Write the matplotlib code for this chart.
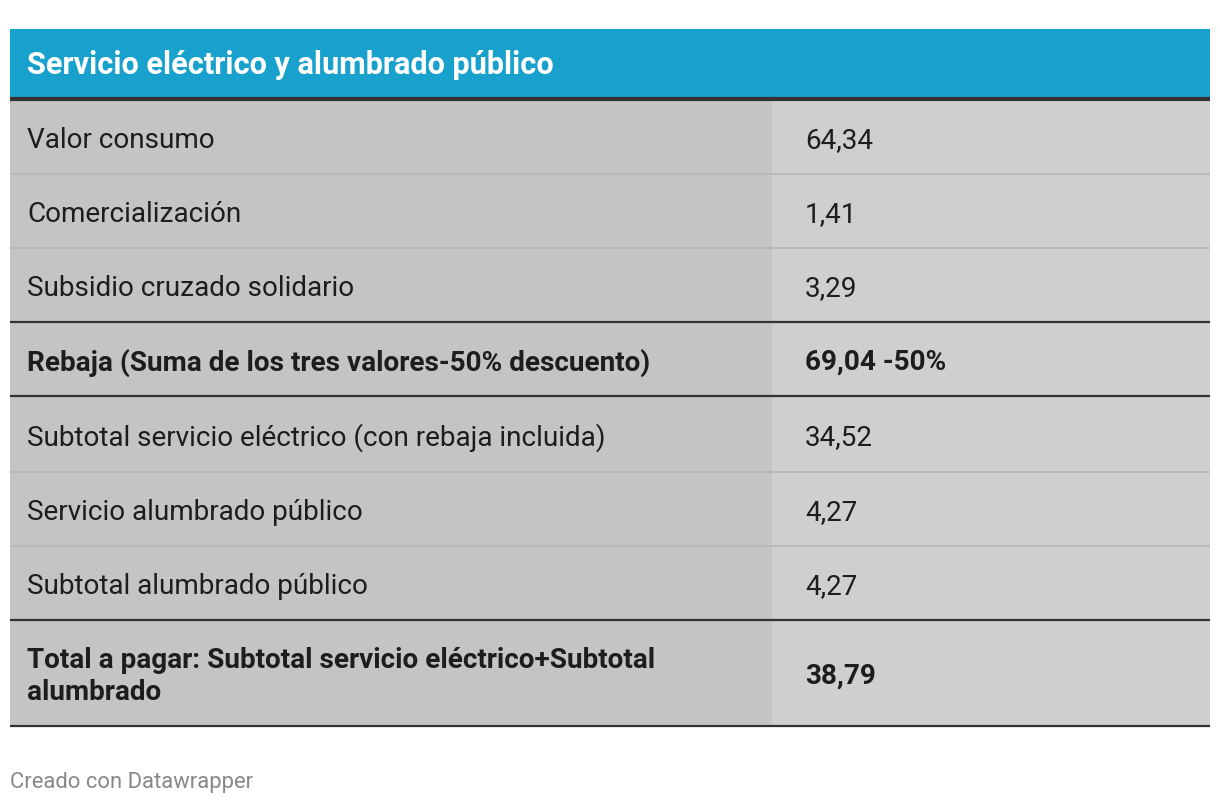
import matplotlib.pyplot as plt
from matplotlib.patches import Rectangle

plt.rcParams['font.family'] = ['Roboto', 'DejaVu Sans']

title = "Servicio eléctrico y alumbrado público"
labels = [
    "Valor consumo",
    "Comercialización",
    "Subsidio cruzado solidario",
    "Rebaja (Suma de los tres valores-50% descuento)",
    "Subtotal servicio eléctrico (con rebaja incluida)",
    "Servicio alumbrado público",
    "Subtotal alumbrado público",
    "Total a pagar: Subtotal servicio eléctrico+Subtotal\nalumbrado",
]
values = ["64,34", "1,41", "3,29", "69,04 -50%", "34,52", "4,27", "4,27", "38,79"]
bold_rows = [False, False, False, True, False, False, False, True]
footer = "Creado con Datawrapper"

W, H = 1220, 804
fig = plt.figure(figsize=(W / 100, H / 100), dpi=100)
ax = fig.add_axes([0, 0, 1, 1])
ax.set_xlim(0, W)
ax.set_ylim(H, 0)
ax.axis('off')

x0, x1, xsplit = 10, 1210, 772
head_top, head_bot = 30, 100
row_heights = [74, 74, 74, 74, 76, 74, 74, 106]

# header
ax.add_patch(Rectangle((x0, head_top), x1 - x0, head_bot - head_top, color='#18a1cd', lw=0))
ax.text(27, (head_top + head_bot) / 2, title, color='white', fontsize=22.1,
        fontweight='bold', va='center', ha='left')

y = head_bot + 1
tops = []
for lab, val, b, h in zip(labels, values, bold_rows, row_heights):
    tops.append(y)
    ax.add_patch(Rectangle((x0, y), xsplit - x0, h, color='#c4c4c4', lw=0))
    ax.add_patch(Rectangle((xsplit, y), x1 - xsplit, h, color='#cfcfcf', lw=0))
    fw = 'bold' if b else 'normal'
    ax.text(27, y + h / 2 + 2.5, lab, fontsize=20.1, fontweight=fw, color='#1d1d1d',
            va='center', ha='left', linespacing=1.2)
    ax.text(805, y + h / 2 + 2.5, val, fontsize=20.1, fontweight=fw, color='#1d1d1d',
            va='center', ha='left')
    y += h

# row separators
for i, t in enumerate(tops):
    if i == 0:
        continue
    if bold_rows[i] or bold_rows[i - 1]:
        ax.plot([x0, x1], [t, t], color='#333333', lw=1.6, solid_capstyle='butt')
    else:
        ax.plot([x0, x1], [t, t], color='#b6b6b6', lw=1.2, solid_capstyle='butt')

ax.plot([x0, x1], [head_bot, head_bot], color='#333333', lw=3, solid_capstyle='butt')
ax.plot([x0, x1], [y, y], color='#333333', lw=1.6, solid_capstyle='butt')

ax.text(10, 783, footer, fontsize=15.8, color='#888888', va='center', ha='left')

fig.savefig('out.png', dpi=100, facecolor='white')
